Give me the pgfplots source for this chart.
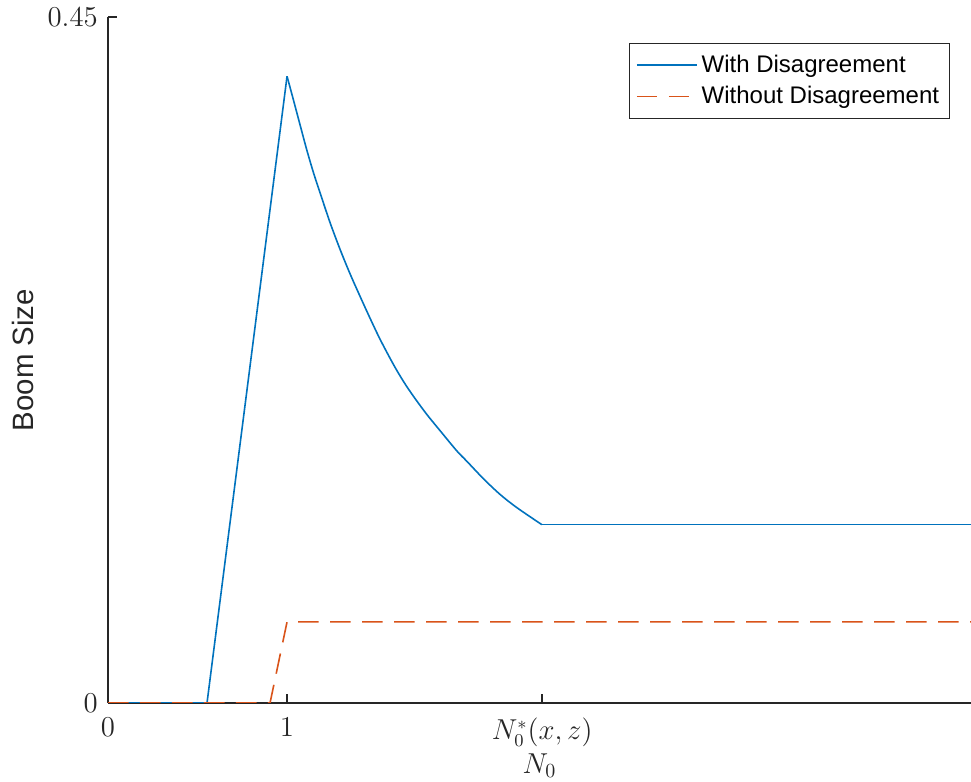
\documentclass[border=0pt]{standalone}
\usepackage{fontspec}
\newfontfamily\arial{Liberation Sans}
\usepackage{pgfplots}
\pgfplotsset{compat=1.18}
\definecolor{mblue}{rgb}{0,0.447,0.741}
\definecolor{morange}{rgb}{0.85,0.325,0.098}
\definecolor{axgray}{rgb}{0.15,0.15,0.15}
\begin{document}
\begin{tikzpicture}
\begin{axis}[
 scale only axis, width=431.5pt, height=343pt,
 xmin=0, xmax=4.82, ymin=0, ymax=0.45,
 axis x line*=bottom, axis y line*=left,
 axis line style={axgray, line width=0.7pt},
 xtick={0,1,2.425}, xticklabels={$0$,$1$,{$N_0^*(x,z)$}},
 ytick={0,0.45}, yticklabels={$0$,$0.45$},
 tick align=inside, major tick length=4.5pt,
 tick style={axgray, line width=0.7pt},
 ticklabel style={font=\fontsize{13.3}{16}\selectfont, text=axgray},
 xticklabel style={yshift=-4pt},
 yticklabel style={xshift=-1.6pt},
 xlabel={$N_0$}, ylabel={Boom Size},
 xlabel style={at={(axis description cs:0.5,-0.0918)}, anchor=center, font=\fontsize{14.7}{17}\selectfont, text=axgray},
 ylabel style={at={(axis description cs:-0.0985,0.5)}, anchor=center, font=\arial\fontsize{14.7}{17}\selectfont, text=axgray},
 legend style={at={(axis description cs:1,1)}, anchor=north east, xshift=-10.5pt, yshift=-13pt,
   draw=axgray, line width=0.5pt, font=\arial\fontsize{12}{14}\selectfont,
   inner xsep=3.2pt, inner ysep=3.75pt, row sep=1.5pt, cells={anchor=west}},
 legend image code/.code={\draw[#1] (0pt,0pt) -- (30pt,0pt);},
 legend cell align=left,
]
\addplot[mblue, line width=0.8pt] coordinates {
 (0,0) (0.553,0) (1,0.4111)
};
\addlegendentry{With Disagreement}
\addplot[morange, line width=0.8pt, dash pattern=on 10.3pt off 5.7pt] coordinates {
 (0,0) (0.905,0) (1,0.0532) (4.82,0.0532)
};
\addlegendentry{Without Disagreement}
\addplot[mblue, line width=0.8pt, smooth, line join=round, forget plot] coordinates {
 (1,0.4111) (1.035,0.3959) (1.073,0.3791) (1.110,0.3629)
 (1.147,0.3481) (1.184,0.3348) (1.240,0.3152) (1.296,0.2976) (1.352,0.2815)
 (1.408,0.2667) (1.464,0.2523) (1.520,0.2385) (1.594,0.2221) (1.650,0.2110)
 (1.706,0.2012) (1.780,0.1894) (1.855,0.1786) (1.948,0.1654) (2.004,0.1586)
 (2.097,0.1471) (2.190,0.1368) (2.283,0.1282) (2.423,0.1170)
};
\addplot[mblue, line width=0.8pt, forget plot] coordinates {
 (2.423,0.1170) (4.82,0.1170)
};
\end{axis}
\pgfresetboundingbox
\path[use as bounding box] (-54pt,-39.5pt) rectangle (431.5pt,351.5pt);
\end{tikzpicture}
\end{document}
